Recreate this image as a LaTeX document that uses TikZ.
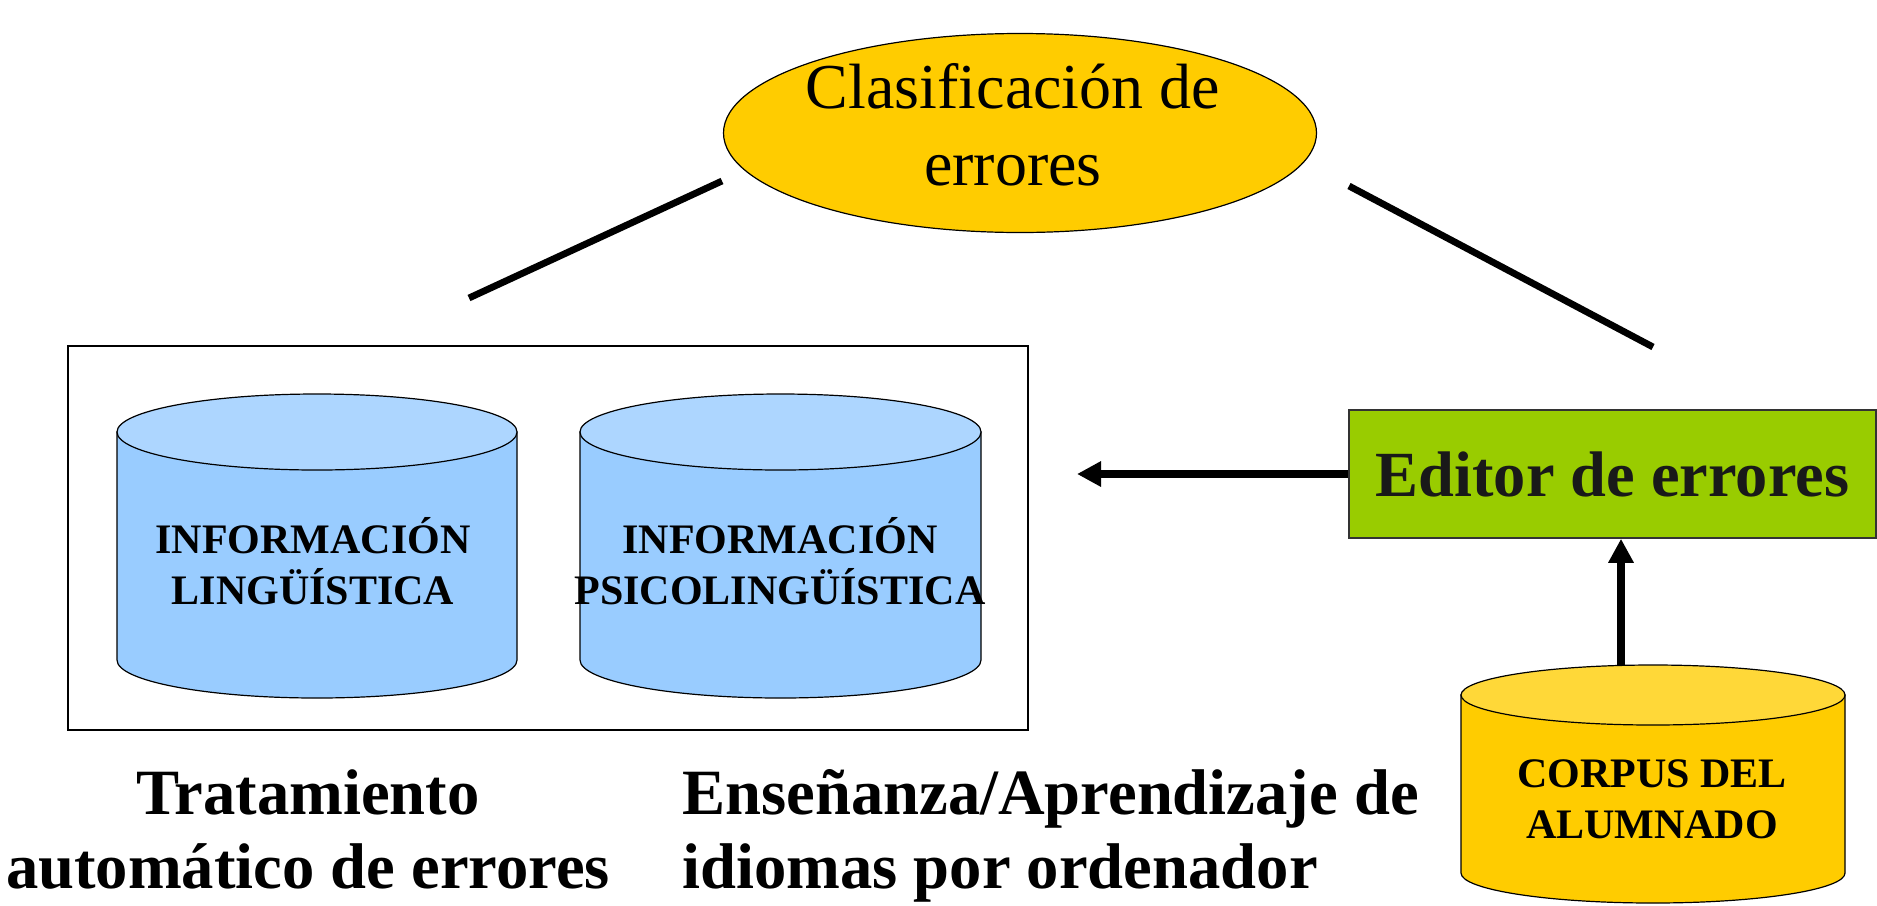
\documentclass[tikz,border=0pt]{standalone}
\usepackage{fontspec}
\setmainfont{Liberation Serif}
\usetikzlibrary{shapes.geometric,arrows.meta}
\definecolor{cylbody}{HTML}{99CCFF}
\definecolor{cyltop}{HTML}{ADD6FF}
\definecolor{gold}{HTML}{FFCC00}
\definecolor{goldtop}{HTML}{FFD838}
\definecolor{lime}{HTML}{99CC00}
\newcommand\mycyl[8]{%
  \filldraw[fill=#7,cylline] (#1,#3) -- (#1,#4) arc[start angle=180,end angle=360,x radius=#5,y radius=#6] -- (#2,#3) -- cycle;
  \filldraw[fill=#8,cylline] ({(#1+#2)/2},#3) ellipse[x radius=#5,y radius=#6];}
\tikzset{
  cylline/.style={draw=black,line width=0.6pt},
  cyltext/.style={font=\fontsize{21pt}{25.5pt}\selectfont\bfseries,align=center,inner sep=0pt},
  bottext/.style={font=\fontsize{32.3pt}{37pt}\selectfont\bfseries,align=center,inner sep=0pt},
  thickline/.style={line width=3.4pt},
  arrowline/.style={line width=3.8pt,-{Triangle[length=12pt,width=12pt]}},
}
\begin{document}
\begin{tikzpicture}[x=0.5pt,y=-0.5pt]
\useasboundingbox (0,0) rectangle (1877,905);
% frame
\node[draw=black,line width=0.8pt,minimum width=480pt,minimum height=192pt,inner sep=0pt] (frame) at (548,538) {};
% cylinders
\mycyl{117}{517}{432}{660}{100pt}{19pt}{cylbody}{cyltop}
\mycyl{580}{981}{432}{660}{100.25pt}{19pt}{cylbody}{cyltop}
\mycyl{1461}{1845}{695}{873}{96pt}{15pt}{gold}{goldtop}
\node[cyltext] (ling) at (313,561) {INFORMACIÓN\\LINGÜÍSTICA};
\node[cyltext] (psico) at (780,561) {INFORMACIÓN\\PSICOLINGÜÍSTICA};
\node[cyltext] (corpus) at (1652,799) {CORPUS DEL\\ALUMNADO};
% ellipse
\node[ellipse,fill=gold,draw=black,line width=0.6pt,minimum width=296.5pt,minimum height=99.5pt,inner sep=0pt] (clas) at (1020,133) {};
\node[font=\fontsize{32pt}{38.5pt}\selectfont,align=center,inner sep=0pt] (clastxt) at (1013,125) {Clasificación de\\errores};
% editor
\node[draw=black!80,line width=0.75pt,fill=lime,minimum width=263.5pt,minimum height=64pt,inner sep=0pt,
      font=\fontsize{32.2pt}{38pt}\selectfont\bfseries,text=black!90] (editor) at (1612.5,474) {Editor de errores};
% bottom texts
\node[bottext] (trat) at (308,829) {Tratamiento\\automático de errores};
\node[bottext,align=left,anchor=west] (ense) at (682,835.5) {Enseñanza/Aprendizaje de\\idiomas por ordenador};
% connectors
\coordinate (lA) at (722,181);
\coordinate (lB) at (469,298);
\coordinate (rA) at (1349,186);
\coordinate (rB) at (1653,347);
\coordinate (arrEnd) at (1077,474);
\coordinate (corpTop) at (1621,665);
\draw[thickline] (lA) -- (lB);
\draw[thickline] (rA) -- (rB);
\draw[arrowline] (editor.west) -- (arrEnd);
\draw[arrowline] (corpTop) -- (corpTop |- editor.south);
\end{tikzpicture}
\end{document}
